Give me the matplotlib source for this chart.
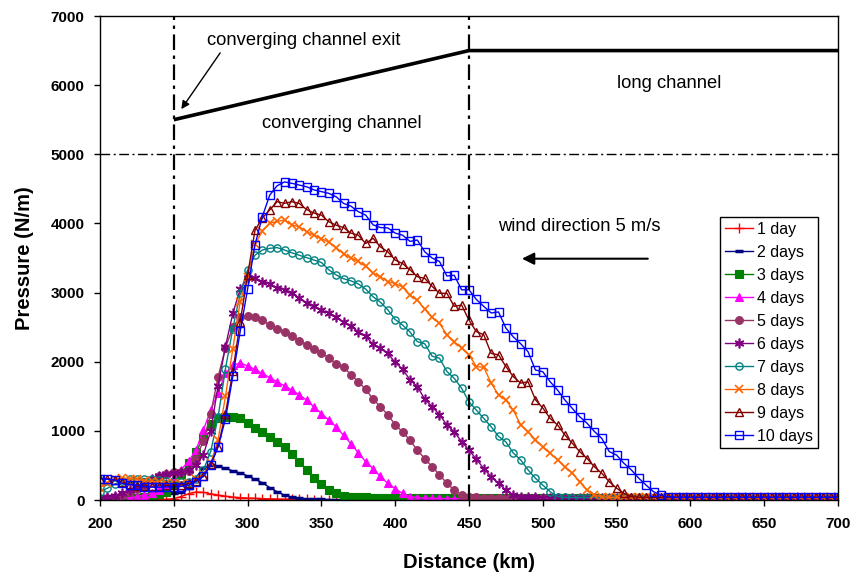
import numpy as np
import matplotlib
matplotlib.use("Agg")
import matplotlib.pyplot as plt

plt.rcParams['font.family'] = ['Liberation Sans', 'DejaVu Sans']

distance = np.arange(200, 705, 5)

day1 = [0, 0, 0, 0, 0, 0, 0, 0, 5, 10,
        20, 50, 90, 115, 110, 90, 70, 55, 42, 34,
        28, 24, 20, 17, 14, 12, 10, 9, 8, 7,
        6, 6, 5, 5, 5, 4, 4, 4, 3, 3,
        3, 3, 3, 3, 2, 2, 2, 2, 2, 2,
        2, 2, 2, 2, 2, 2, 2, 2, 2, 2,
        2, 2, 2, 2, 2, 2, 2, 2, 2, 2,
        2, 2, 2, 2, 2, 2, 2, 2, 2, 2,
        2, 2, 2, 2, 2, 2, 2, 2, 2, 2,
        2, 2, 2, 2, 2, 2, 2, 2, 2, 2,
        2]
day2 = [0, 0, 0, 0, 0, 0, 0, 60, 90, 95,
        100, 110, 180, 320, 470, 505, 490, 460, 420, 390,
        350, 300, 250, 180, 120, 70, 40, 25, 15, 10,
        8, 6, 5, 5, 5, 5, 5, 5, 5, 5,
        5, 5, 5, 5, 5, 5, 5, 5, 5, 5,
        5, 5, 5, 5, 5, 5, 5, 5, 5, 5,
        5, 5, 5, 5, 5, 5, 5, 5, 5, 5,
        5, 5, 5, 5, 5, 5, 5, 5, 5, 5,
        5, 5, 5, 5, 5, 5, 5, 5, 5, 5,
        5, 5, 5, 5, 5, 5, 5, 5, 5, 5,
        5]
day3 = [0, 0, 5, 10, 20, 30, 45, 60, 80, 120,
        220, 380, 530, 690, 900, 1100, 1190, 1205, 1205, 1180,
        1110, 1040, 980, 915, 845, 770, 670, 555, 440, 320,
        230, 150, 100, 60, 45, 40, 38, 36, 35, 35,
        35, 35, 35, 35, 35, 35, 35, 35, 35, 35,
        35, 35, 35, 35, 35, 35, 35, 35, 35, 35,
        35, 35, 35, 35, 35, 35, 35, 35, 35, 35,
        35, 35, 35, 35, 35, 35, 35, 35, 35, 35,
        35, 35, 35, 35, 35, 35, 35, 35, 35, 35,
        35, 35, 35, 35, 35, 35, 35, 35, 35, 35,
        35]
day4 = [0, 5, 10, 20, 35, 50, 70, 100, 150, 220,
        330, 440, 560, 720, 1010, 1300, 1550, 1830, 1950, 1980,
        1940, 1890, 1830, 1770, 1710, 1650, 1590, 1520, 1445, 1345,
        1250, 1155, 1060, 935, 815, 680, 555, 455, 340, 240,
        165, 95, 50, 35, 28, 25, 22, 20, 20, 20,
        20, 20, 20, 20, 20, 20, 20, 20, 20, 20,
        20, 20, 20, 20, 20, 20, 20, 20, 20, 20,
        20, 20, 20, 20, 20, 20, 20, 20, 20, 20,
        20, 20, 20, 20, 20, 20, 20, 20, 20, 20,
        20, 20, 20, 20, 20, 20, 20, 20, 20, 20,
        20]
day5 = [20, 30, 50, 75, 120, 160, 200, 290, 340, 380,
        400, 410, 420, 600, 850, 1250, 1780, 2200, 2500, 2650,
        2665, 2640, 2600, 2530, 2480, 2430, 2370, 2300, 2240, 2180,
        2120, 2060, 1970, 1920, 1815, 1710, 1600, 1460, 1350, 1230,
        1090, 985, 865, 720, 600, 480, 365, 240, 145, 75,
        45, 40, 35, 32, 30, 30, 30, 30, 30, 30,
        30, 30, 30, 30, 30, 30, 30, 30, 30, 30,
        30, 30, 30, 30, 30, 30, 30, 30, 30, 30,
        30, 30, 30, 30, 30, 30, 30, 30, 30, 30,
        30, 30, 30, 30, 30, 30, 30, 30, 30, 30,
        30]
day6 = [30, 40, 60, 100, 150, 200, 250, 300, 340, 370,
        390, 400, 430, 500, 650, 1000, 1650, 2220, 2700, 3050,
        3210, 3210, 3160, 3120, 3070, 3040, 2990, 2920, 2850, 2800,
        2750, 2700, 2640, 2570, 2520, 2430, 2370, 2250, 2200, 2120,
        1990, 1890, 1740, 1640, 1460, 1350, 1235, 1085, 985, 845,
        720, 590, 455, 335, 240, 145, 75, 45, 40, 38,
        35, 35, 35, 35, 35, 35, 35, 35, 35, 35,
        35, 35, 35, 35, 35, 35, 35, 35, 35, 35,
        35, 35, 35, 35, 35, 35, 35, 35, 35, 35,
        35, 35, 35, 35, 35, 35, 35, 35, 35, 35,
        35]
day7 = [120, 170, 230, 280, 300, 310, 310, 300, 290, 280,
        270, 255, 260, 300, 430, 700, 1200, 1900, 2480, 2990,
        3330, 3540, 3615, 3640, 3650, 3615, 3575, 3540, 3505, 3470,
        3435, 3330, 3255, 3200, 3170, 3125, 3050, 2940, 2860, 2750,
        2610, 2530, 2430, 2290, 2260, 2080, 2050, 1860, 1760, 1615,
        1420, 1300, 1180, 1060, 920, 840, 680, 580, 435, 315,
        215, 120, 50, 38, 35, 35, 35, 35, 35, 35,
        35, 35, 35, 35, 35, 35, 35, 35, 35, 35,
        35, 35, 35, 35, 35, 35, 35, 35, 35, 35,
        35, 35, 35, 35, 35, 35, 35, 35, 35, 35,
        35]
day8 = [180, 250, 300, 320, 310, 300, 280, 270, 260, 250,
        240, 230, 250, 300, 380, 530, 870, 1500, 2190, 2870,
        3230, 3700, 3890, 4000, 4030, 4050, 3980, 3950, 3880, 3830,
        3780, 3730, 3650, 3560, 3500, 3450, 3380, 3280, 3230, 3160,
        3130, 3080, 2960, 2890, 2760, 2640, 2555, 2390, 2290, 2195,
        2100, 1930, 1920, 1690, 1520, 1445, 1300, 1085, 990, 870,
        770, 675, 580, 480, 385, 265, 145, 72, 45, 40,
        38, 38, 38, 38, 38, 38, 38, 38, 38, 38,
        38, 38, 38, 38, 38, 38, 38, 38, 38, 38,
        38, 38, 38, 38, 38, 38, 38, 38, 38, 38,
        38]
day9 = [310, 310, 290, 260, 230, 200, 200, 200, 205, 210,
        210, 220, 240, 280, 340, 520, 770, 1250, 1860, 2580,
        3250, 3900, 4080, 4195, 4315, 4290, 4315, 4290, 4200, 4150,
        4120, 4025, 3975, 3940, 3860, 3830, 3710, 3785, 3660, 3590,
        3470, 3420, 3330, 3230, 3205, 3090, 2990, 2990, 2800, 2820,
        2600, 2435, 2390, 2120, 2100, 1930, 1785, 1690, 1710, 1450,
        1330, 1180, 1085, 940, 820, 700, 600, 480, 385, 265,
        170, 97, 48, 40, 38, 38, 38, 38, 38, 38,
        38, 38, 38, 38, 38, 38, 38, 38, 38, 38,
        38, 38, 38, 38, 38, 38, 38, 38, 38, 38,
        38]
day10 = [310, 300, 290, 240, 220, 215, 195, 185, 185, 190,
         190, 195, 215, 265, 340, 505, 770, 1170, 1790, 2440,
         3050, 3690, 4100, 4410, 4545, 4600, 4580, 4555, 4530, 4485,
         4460, 4435, 4385, 4290, 4250, 4170, 4120, 3980, 3940, 3935,
         3860, 3830, 3740, 3760, 3590, 3500, 3450, 3240, 3250, 3040,
         3040, 2900, 2800, 2705, 2720, 2485, 2360, 2260, 2145, 1880,
         1855, 1710, 1590, 1445, 1325, 1205, 1110, 990, 890, 700,
         650, 530, 435, 315, 215, 120, 72, 45, 40, 40,
         40, 40, 40, 40, 40, 40, 40, 40, 40, 40,
         40, 40, 40, 40, 40, 40, 40, 40, 40, 40,
         40]

labels = ["1 day", "2 days", "3 days", "4 days", "5 days",
          "6 days", "7 days", "8 days", "9 days", "10 days"]
series = [day1, day2, day3, day4, day5, day6, day7, day8, day9, day10]

styles = [
    dict(color="#FF0000", marker="+", ms=6.5, mfc="#FF0000", mec="#FF0000", mew=1.0),
    dict(color="#000080", marker="_", ms=6, mfc="#000080", mec="#000080", mew=2.5),
    dict(color="#008000", marker="s", ms=5.2, mfc="#008000", mec="#008000", mew=0.8),
    dict(color="#FF00FF", marker="^", ms=5.8, mfc="#FF00FF", mec="#FF00FF", mew=0.8),
    dict(color="#993366", marker="o", ms=5.6, mfc="#993366", mec="#993366", mew=0.8),
    dict(color="#800080", marker=(6, 2, 0), ms=7, mfc="#800080", mec="#800080", mew=1.2),
    dict(color="#008080", marker="o", ms=5.2, mfc="none", mec="#008080", mew=1.0),
    dict(color="#FF6600", marker="x", ms=5.8, mfc="#FF6600", mec="#FF6600", mew=1.2),
    dict(color="#800000", marker="^", ms=5.6, mfc="none", mec="#800000", mew=1.0),
    dict(color="#0000FF", marker="s", ms=5.4, mfc="none", mec="#0000FF", mew=1.0),
]

fig = plt.figure(figsize=(8.52, 5.73), dpi=100)
ax = fig.add_axes([100 / 852, 1 - 500 / 573, 738 / 852, 484 / 573])

for vals, lab, st in zip(series, labels, styles):
    ax.plot(distance, vals, label=lab, lw=1.0, **st)

# Channel geometry lines
dd = (0, (7, 2.5, 1.5, 2.5))
ax.axvline(250, color="black", lw=1.6, ls=dd)
ax.axvline(450, color="black", lw=1.6, ls=dd)
ax.axhline(5000, color="black", lw=1.0, ls=dd)
chan_x = [250, 450, 700]
chan_y = [5500, 6500, 6500]
ax.plot(chan_x, chan_y, color="black", lw=2.6, solid_capstyle="butt")

afs = 13.2
ax.text(272.5, 6650, "converging channel exit", fontsize=afs, va="center", ha="left")
ax.annotate("", xy=(254, 5620), xytext=(282.5, 6500),
            arrowprops=dict(arrowstyle="-|>", color="black", lw=1.0, mutation_scale=12))
ax.text(364, 5440, "converging channel", fontsize=afs, va="center", ha="center")
ax.text(585.5, 6020, "long channel", fontsize=afs, va="center", ha="center")
ax.text(469.5, 3950, "wind direction 5 m/s", fontsize=afs, va="center", ha="left")
ax.annotate("", xy=(484, 3490), xytext=(573, 3490),
            arrowprops=dict(arrowstyle="-|>", color="black", lw=1.5, mutation_scale=18))

ax.set_xlim(200, 700)
ax.set_ylim(0, 7000)
ax.set_xticks(np.arange(200, 701, 50))
ax.set_yticks(np.arange(0, 7001, 1000))
ax.tick_params(direction="out", length=4, width=1, labelsize=11)
ax.tick_params(axis="x", pad=8)
ax.tick_params(axis="y", pad=7)
for lab in ax.get_xticklabels() + ax.get_yticklabels():
    lab.set_fontweight("bold")
for sp in ax.spines.values():
    sp.set_linewidth(1.0)

ax.set_xlabel("Distance (km)", fontsize=14.5, fontweight="bold", labelpad=16)
ax.set_ylabel("Pressure (N/m)", fontsize=14.5, fontweight="bold", labelpad=12)

leg = ax.legend(loc="upper left", bbox_to_anchor=(0.840, 0.585), fontsize=11.5,
                frameon=True, fancybox=False, edgecolor="black", framealpha=1,
                handlelength=1.8, labelspacing=0.5, borderpad=0.3,
                handletextpad=0.25, borderaxespad=0)
leg.get_frame().set_linewidth(1.0)

fig.savefig("out.png", dpi=100)
